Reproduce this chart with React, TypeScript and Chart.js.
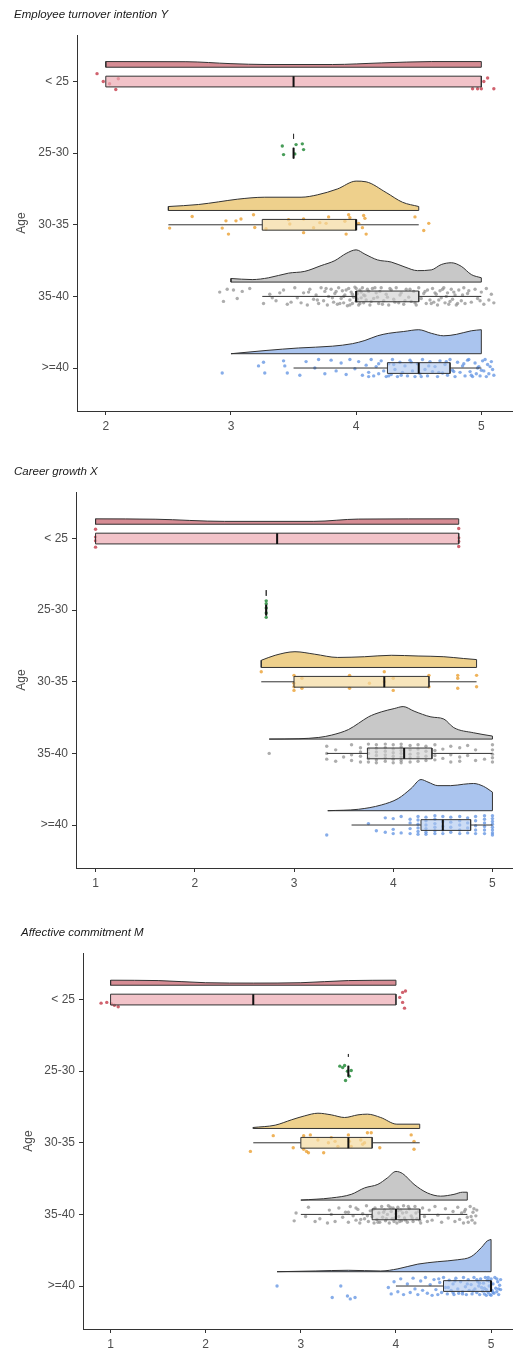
import React, { useEffect, useRef } from "react";
import { Chart, registerables } from "chart.js";

Chart.register(...registerables);

const FONT = "'Liberation Sans', Arial, Helvetica, sans-serif";

// ---------- shared ----------
const CATEGORIES = ["< 25", "25-30", "30-35", "35-40", ">=40"];
const Y_AXIS_LABEL = "Age";
const TITLE_Y = "Employee turnover intention Y";
const TITLE_X = "Career growth X";
const TITLE_M = "Affective commitment M";

const TICKS_Y = [2, 3, 4, 5];
const TICKS_X = [1, 2, 3, 4, 5];
const TICKS_M = [1, 2, 3, 4, 5];

const VIOLIN_FILL = ["#d68c94", "#6fae7a", "#eed08c", "#c8c8c8", "#aac4ee"];
const BOX_FILL = [
  "rgba(236,170,178,0.7)",
  "rgba(120,190,130,0.6)",
  "rgba(243,218,160,0.7)",
  "rgba(205,205,205,0.6)",
  "rgba(170,196,238,0.6)",
];
const POINT_COLOR = [
  "rgba(200,70,85,0.85)",
  "rgba(40,140,60,0.85)",
  "rgba(235,160,50,0.8)",
  "rgba(145,145,145,0.75)",
  "rgba(95,145,225,0.75)",
];
const OUTLINE = "#333333";

// helper: values at a fixed score with vertical jitter offsets
const stripes = (s: [number, number[]][]) =>
  s.flatMap(([v, dys]) => dys.map((d) => [v, d] as [number, number]));

// ---------- Employee turnover intention Y ----------
// half-violin outline: [score, height]
const Y_VIOLIN_LT25 = [[2.0, 0.079], [2.64, 0.077], [3.0, 0.05], [3.28, 0.038], [3.81, 0.038], [4.2, 0.06], [4.6, 0.079], [5.0, 0.079]];
const Y_VIOLIN_2530 = [[3.5, 0.07]];
const Y_VIOLIN_3035 = [[2.5, 0.055], [2.74, 0.083], [2.9, 0.12], [3.05, 0.157], [3.27, 0.185], [3.56, 0.185], [3.69, 0.218], [3.85, 0.3], [4.0, 0.41], [4.08, 0.4], [4.24, 0.25], [4.37, 0.115], [4.5, 0.055]];
const Y_VIOLIN_3540 = [[3.0, 0.05], [3.17, 0.035], [3.3, 0.06], [3.46, 0.125], [3.59, 0.15], [3.72, 0.23], [3.83, 0.3], [3.92, 0.4], [4.0, 0.45], [4.07, 0.39], [4.17, 0.31], [4.28, 0.28], [4.39, 0.21], [4.49, 0.16], [4.6, 0.17], [4.68, 0.245], [4.76, 0.27], [4.84, 0.22], [4.92, 0.105], [5.0, 0.06]];
const Y_VIOLIN_GE40 = [[3.0, 0.0], [3.28, 0.045], [3.54, 0.08], [3.81, 0.105], [3.97, 0.14], [4.07, 0.185], [4.17, 0.25], [4.26, 0.285], [4.38, 0.31], [4.5, 0.335], [4.6, 0.285], [4.7, 0.25], [4.8, 0.27], [4.92, 0.32], [5.0, 0.335]];
// box: [whisker low, q1, median, q3, whisker high]
const Y_BOXES = [[2, 2, 3.5, 5, 5], [3.5, 3.5, 3.5, 3.5, 3.5], [2.5, 3.25, 4.0, 4.0, 4.5], [3.25, 4.0, 4.0, 4.5, 5.0], [3.5, 4.25, 4.5, 4.75, 5.0]];
// points: [score (jittered), vertical offset]
const Y_PTS_LT25 = [[1.93, -0.11], [1.98, 0.0], [2.03, 0.03], [2.1, -0.04], [2.08, 0.11], [4.93, 0.1], [4.97, 0.1], [5.0, 0.1], [5.02, 0.0], [5.05, -0.05], [5.1, 0.1]];
const Y_PTS_2530 = [[3.41, -0.1], [3.42, 0.02], [3.52, -0.12], [3.51, 0.01], [3.57, -0.13], [3.58, -0.05]];
const Y_PTS_3035 = [[2.69, -0.115], [2.51, 0.046], [2.93, 0.046], [2.96, -0.055], [2.98, 0.13], [3.04, -0.055], [3.08, -0.08], [3.18, -0.14], [3.19, 0.037], [3.28, 0.055], [3.46, -0.07], [3.47, -0.01], [3.58, -0.08], [3.58, 0.11], [3.66, 0.04], [3.71, -0.03], [3.78, -0.11], [3.76, -0.02], [3.92, 0.13], [3.91, -0.05], [3.94, -0.14], [3.95, -0.1], [4.02, -0.02], [4.06, -0.13], [4.07, -0.09], [4.08, 0.13], [4.05, 0.04], [4.47, -0.11], [4.54, 0.08], [4.58, -0.02]];
const Y_PTS_3540 = [[2.91, -0.06], [2.94, 0.07], [2.97, -0.1], [3.02, -0.09], [3.05, 0.03], [3.09, -0.07], [3.15, -0.11], [3.26, 0.1], [3.31, -0.03], [3.36, 0.06], [3.42, -0.09], [3.45, 0.11],
  [3.51, -0.12], [3.53, 0.02], [3.56, 0.09], [3.58, -0.05], [3.61, 0.12], [3.63, -0.1], [3.66, 0.04], [3.68, -0.02], [3.7, 0.1], [3.72, -0.12], [3.74, 0.06], [3.75, -0.07], [3.77, 0.12], [3.78, 0.0], [3.8, -0.1],
  [3.82, 0.08], [3.83, -0.04], [3.85, 0.11], [3.86, -0.12], [3.88, 0.03], [3.89, -0.08], [3.9, 0.09], [3.91, -0.02], [3.93, 0.13], [3.94, -0.11], [3.95, 0.05], [3.96, -0.06], [3.97, 0.1], [3.98, 0.01], [3.99, -0.13], [4.0, 0.07], [4.01, -0.04], [4.02, 0.12], [4.03, -0.09], [4.04, 0.02], [4.05, -0.12], [4.06, 0.09], [4.07, -0.01], [4.08, 0.05], [4.1, -0.07], [4.11, 0.12], [4.13, -0.11], [4.14, 0.03], [4.16, -0.05], [4.18, 0.1], [4.2, -0.12], [4.22, 0.06], [4.24, -0.03], [4.26, 0.12], [4.28, -0.09],
  [4.3, 0.04], [4.32, -0.12], [4.34, 0.09], [4.36, -0.05], [4.38, 0.11], [4.4, -0.1], [4.42, 0.01], [4.44, 0.07], [4.46, -0.07], [4.48, 0.12], [4.5, -0.12], [4.52, 0.03], [4.54, -0.04], [4.56, 0.1], [4.57, -0.09], [4.59, 0.05],
  [4.61, -0.11], [4.62, 0.08], [4.64, -0.03], [4.65, 0.12], [4.67, -0.08], [4.68, 0.02], [4.7, -0.12], [4.71, 0.09], [4.73, -0.05], [4.74, 0.11], [4.76, -0.1], [4.77, 0.04], [4.79, -0.02], [4.8, 0.12], [4.82, -0.09], [4.84, 0.06], [4.86, -0.12], [4.87, 0.1], [4.89, -0.04],
  [4.92, 0.08], [4.95, -0.1], [4.97, 0.03], [5.0, -0.06], [5.02, 0.11], [5.04, -0.11], [5.06, 0.05], [5.08, -0.03], [5.1, 0.09],
  [3.62, -0.06], [3.69, 0.05], [3.76, -0.11], [3.81, 0.02], [3.84, -0.07], [3.87, 0.1], [3.9, 0.0], [3.92, -0.09], [3.95, 0.12], [3.97, -0.03], [4.0, -0.11], [4.01, 0.04], [4.03, 0.1], [4.04, -0.06], [4.06, -0.02], [4.09, -0.1], [4.12, 0.07], [4.15, -0.12], [4.17, 0.01], [4.19, -0.07], [4.21, 0.11], [4.25, 0.01], [4.27, -0.11], [4.31, 0.08], [4.35, -0.02], [4.39, 0.06], [4.43, -0.1], [4.47, 0.09], [4.55, -0.07], [4.6, 0.1], [4.63, -0.05], [4.66, 0.05], [4.69, -0.1], [4.72, 0.0], [4.75, 0.07], [4.78, -0.06], [4.81, 0.1], [4.85, -0.02], [4.9, -0.08], [4.99, 0.06], [3.48, 0.08], [3.39, -0.05], [3.33, 0.02]];
const Y_PTS_GE40 = [[2.93, 0.07], [3.22, -0.03], [3.26, -0.08], [3.27, 0.07], [3.42, -0.1], [3.43, -0.03], [3.45, 0.07], [3.55, 0.1], [3.6, -0.09], [3.67, 0.0], [3.7, -0.12], [3.75, 0.08], [3.8, -0.11], [3.84, 0.04], [3.88, -0.07], [3.92, 0.09], [3.95, -0.12], [3.99, 0.01], [4.02, -0.09], [4.05, 0.1], [4.08, -0.04], [4.1, 0.06], [4.12, -0.12], [4.14, 0.11], [4.16, -0.02], [4.18, 0.08], [4.2, -0.1], [4.22, 0.04], [4.24, 0.12], [4.26, -0.06], [4.28, 0.09], [4.29, -0.12], [4.31, 0.02], [4.33, 0.12], [4.35, -0.08], [4.37, 0.06], [4.39, -0.03], [4.41, 0.11], [4.43, -0.11], [4.45, 0.04], [4.47, 0.12], [4.49, -0.06], [4.51, 0.08], [4.53, -0.12], [4.55, 0.02], [4.57, 0.11], [4.59, -0.09], [4.61, 0.05], [4.63, -0.02], [4.65, 0.12], [4.67, -0.1], [4.69, 0.07], [4.71, -0.05], [4.73, 0.1], [4.75, -0.12], [4.77, 0.03], [4.79, 0.12], [4.81, -0.08], [4.83, 0.06], [4.85, -0.03], [4.87, 0.11], [4.89, -0.11], [4.91, 0.05], [4.93, 0.12], [4.95, -0.07], [4.96, 0.08], [4.98, -0.02], [4.99, 0.11], [5.01, -0.1], [5.02, 0.04], [5.04, 0.12], [5.05, -0.05], [5.06, 0.08], [5.08, -0.09], [5.09, 0.02], [5.1, 0.1], [5.03, -0.12], [4.97, 0.0],
  [4.3, -0.05], [4.36, 0.1], [4.44, -0.08], [4.52, 0.12], [4.58, -0.03], [4.66, 0.06], [4.72, -0.09], [4.78, 0.05], [4.86, -0.06], [4.92, 0.1], [5.0, 0.03], [5.07, -0.02], [4.9, -0.12], [4.26, 0.11], [4.18, -0.06], [4.1, 0.12]];

// ---------- Career growth X ----------
const X_VIOLIN_LT25 = [[1.0, 0.075], [1.6, 0.07], [2.3, 0.04], [3.2, 0.04], [3.65, 0.072], [4.66, 0.075]];
const X_VIOLIN_2530 = [[2.72, 0.08]];
const X_VIOLIN_3035 = [[2.67, 0.1], [2.81, 0.17], [3.01, 0.22], [3.21, 0.185], [3.44, 0.14], [3.71, 0.15], [3.98, 0.17], [4.25, 0.16], [4.51, 0.15], [4.71, 0.125], [4.84, 0.11]];
const X_VIOLIN_3540 = [[2.75, 0.0], [3.05, 0.005], [3.25, 0.023], [3.38, 0.056], [3.55, 0.134], [3.65, 0.22], [3.75, 0.31], [3.88, 0.38], [4.01, 0.426], [4.1, 0.454], [4.21, 0.39], [4.38, 0.31], [4.51, 0.28], [4.61, 0.16], [4.81, 0.088], [5.0, 0.042]];
const X_VIOLIN_GE40 = [[3.34, 0.0], [3.65, 0.02], [3.88, 0.08], [4.05, 0.17], [4.18, 0.31], [4.28, 0.435], [4.35, 0.4], [4.45, 0.35], [4.58, 0.35], [4.71, 0.37], [4.81, 0.38], [4.91, 0.34], [5.0, 0.26]];
const X_BOXES = [[1, 1, 2.83, 4.66, 4.66], [2.72, 2.72, 2.72, 2.72, 2.72], [2.67, 3.0, 3.91, 4.36, 4.84], [3.33, 3.74, 4.11, 4.39, 5.0], [3.58, 4.28, 4.5, 4.78, 5.0]];
const X_PTS_LT25 = stripes([[1.0, [-0.13, -0.02, 0.03, 0.12]], [4.66, [-0.14, -0.01, 0.04, 0.11]]]);
const X_PTS_2530 = stripes([[2.72, [-0.13, -0.09, -0.03, 0.04, 0.1]]]);
const X_PTS_3035 = stripes([[2.67, [-0.14]], [3.0, [-0.09, 0.02, 0.07, 0.12]], [3.08, [-0.05, 0.09]], [3.56, [-0.09, 0.09]], [3.76, [0.02]], [3.91, [-0.14, 0.0]], [4.0, [-0.05, 0.12]], [4.36, [-0.09, 0.07]], [4.65, [-0.09, -0.05, 0.09]], [4.84, [-0.09, 0.07]]]);
const X_PTS_3540 = stripes([[2.75, [0.0]], [3.33, [-0.1, 0.0, 0.08]], [3.42, [-0.05, 0.11]], [3.5, [0.05]], [3.58, [-0.12, 0.02, 0.1]], [3.67, [-0.08, -0.02, 0.04, 0.12]], [3.75, [-0.13, -0.06, 0.0, 0.07, 0.12]], [3.83, [-0.12, -0.07, -0.02, 0.03, 0.09, 0.13]], [3.92, [-0.13, -0.08, -0.03, 0.02, 0.06, 0.11]], [4.0, [-0.12, -0.06, -0.01, 0.04, 0.08, 0.13]], [4.08, [-0.13, -0.09, -0.04, 0.0, 0.05, 0.1, 0.13]], [4.17, [-0.11, -0.05, 0.01, 0.06, 0.12]], [4.25, [-0.12, -0.06, 0.0, 0.05, 0.11]], [4.33, [-0.1, -0.03, 0.04, 0.1]], [4.42, [-0.12, -0.04, 0.03, 0.09]], [4.5, [-0.06, 0.07]], [4.58, [-0.1, 0.02, 0.12]], [4.67, [-0.08, 0.05, 0.11]], [4.75, [-0.11, 0.03]], [4.83, [-0.05, 0.1]], [4.92, [0.08]], [5.0, [-0.12, -0.05, 0.01, 0.06, 0.12]]]);
const X_PTS_GE40 = stripes([[3.33, [0.14]], [3.75, [-0.02]], [3.83, [0.08]], [3.92, [-0.1, 0.1]], [4.0, [-0.09, 0.06, 0.12]], [4.08, [-0.12, 0.11]], [4.17, [-0.08, -0.03, 0.05, 0.12]], [4.25, [-0.12, -0.07, -0.01, 0.04, 0.09, 0.13]], [4.33, [-0.11, -0.06, 0.0, 0.05, 0.1, 0.13]], [4.42, [-0.13, -0.08, -0.02, 0.03, 0.08, 0.12]], [4.5, [-0.12, -0.05, 0.02, 0.07, 0.12]], [4.58, [-0.11, -0.04, 0.03, 0.1]], [4.67, [-0.12, -0.06, 0.0, 0.07, 0.12]], [4.75, [-0.1, -0.03, 0.04, 0.11]], [4.83, [-0.12, -0.06, 0.01, 0.07, 0.12]], [4.92, [-0.13, -0.08, -0.03, 0.02, 0.07, 0.12]], [5.0, [-0.13, -0.09, -0.05, -0.01, 0.03, 0.07, 0.11, 0.14]]]);

// ---------- Affective commitment M ----------
const M_VIOLIN_LT25 = [[1.0, 0.07], [1.5, 0.065], [2.0, 0.035], [2.5, 0.03], [3.0, 0.035], [3.5, 0.065], [4.0, 0.07]];
const M_VIOLIN_2530 = [[3.5, 0.04]];
const M_VIOLIN_3035 = [[2.5, 0.014], [2.73, 0.046], [2.9, 0.12], [3.04, 0.176], [3.18, 0.213], [3.32, 0.19], [3.46, 0.153], [3.6, 0.19], [3.7, 0.2], [3.84, 0.153], [4.01, 0.06], [4.25, 0.06]];
const M_VIOLIN_3540 = [[3.0, 0.0], [3.32, 0.03], [3.53, 0.08], [3.67, 0.17], [3.81, 0.22], [3.91, 0.31], [4.0, 0.4], [4.07, 0.37], [4.19, 0.22], [4.33, 0.1], [4.47, 0.055], [4.61, 0.08], [4.7, 0.11], [4.75, 0.11]];
const M_VIOLIN_GE40 = [[2.75, 0.0], [3.15, 0.01], [3.5, 0.02], [3.84, 0.01], [4.02, 0.04], [4.23, 0.106], [4.44, 0.14], [4.65, 0.167], [4.79, 0.21], [4.9, 0.34], [4.96, 0.43], [5.0, 0.45]];
const M_BOXES = [[1, 1, 2.5, 4, 4], [3.5, 3.5, 3.5, 3.5, 3.5], [2.5, 3.0, 3.5, 3.75, 4.25], [3.0, 3.75, 4.0, 4.25, 4.75], [4.0, 4.5, 5.0, 5.0, 5.0]];
const M_PTS_LT25 = [[0.9, 0.05], [0.96, 0.04], [1.01, 0.06], [1.04, 0.08], [1.08, 0.1], [4.07, -0.1], [4.1, -0.12], [4.04, -0.03], [4.07, 0.04], [4.09, 0.12]];
const M_PTS_2530 = [[3.41, -0.07], [3.46, -0.08], [3.49, 0.0], [3.53, -0.01], [3.47, 0.13], [3.44, -0.05], [3.51, 0.07]];
const M_PTS_3035 = [[2.47, 0.12], [2.71, -0.1], [2.92, 0.07], [3.03, -0.1], [3.08, 0.14], [3.1, -0.11], [3.03, 0.09], [3.06, 0.12], [3.18, -0.04], [3.24, 0.14], [3.29, 0.0], [3.32, -0.07], [3.36, -0.02], [3.39, 0.05], [3.5, -0.11], [3.51, -0.02], [3.53, 0.05], [3.63, -0.04], [3.65, 0.02], [3.7, -0.14], [3.74, -0.14], [3.67, 0.0], [3.83, 0.07], [4.16, -0.11], [4.19, -0.02], [4.19, 0.09]];
const M_PTS_3540 = [[2.93, 0.09], [2.95, -0.02], [3.05, 0.03], [3.08, -0.1], [3.15, 0.1], [3.2, 0.06], [3.28, 0.12], [3.3, -0.06], [3.32, 0.0], [3.36, 0.1], [3.4, -0.09], [3.44, 0.04], [3.47, -0.03], [3.5, 0.11], [3.52, -0.11], [3.55, 0.02], [3.58, 0.08], [3.6, -0.07], [3.62, 0.12], [3.65, -0.01], [3.67, 0.06], [3.69, -0.12], [3.71, 0.1], [3.73, -0.05], [3.75, 0.03], [3.77, 0.12], [3.78, -0.09], [3.8, 0.07], [3.82, -0.02], [3.83, 0.11], [3.85, -0.11], [3.86, 0.04], [3.88, -0.06], [3.89, 0.09], [3.91, 0.0], [3.92, -0.12], [3.93, 0.12], [3.95, -0.04], [3.96, 0.06], [3.97, -0.09], [3.98, 0.1], [4.0, -0.01], [4.01, 0.12], [4.02, -0.1], [4.03, 0.03], [4.05, -0.06], [4.06, 0.09], [4.08, -0.12], [4.09, 0.05], [4.11, -0.03], [4.12, 0.11], [4.14, -0.08], [4.16, 0.02], [4.18, 0.1], [4.2, -0.11], [4.22, 0.06], [4.24, -0.04], [4.26, 0.12], [4.28, -0.09], [4.3, 0.03], [4.33, 0.1], [4.35, -0.06], [4.38, 0.08], [4.41, -0.11], [4.44, 0.01], [4.48, 0.11], [4.52, -0.08], [4.55, 0.05], [4.6, -0.04], [4.62, 0.1], [4.65, -0.1], [4.67, 0.07], [4.69, -0.02], [4.71, 0.12], [4.73, -0.07], [4.75, 0.04], [4.76, 0.11], [4.78, -0.11], [4.8, 0.08], [4.81, -0.03], [4.83, 0.12], [4.84, 0.02], [4.85, -0.06],
  [3.7, 0.02], [3.76, -0.07], [3.81, 0.11], [3.87, -0.03], [3.9, 0.06], [3.94, -0.1], [3.99, 0.05], [4.02, -0.05], [4.04, 0.1], [4.07, -0.02], [4.1, 0.08], [4.13, -0.11], [4.17, 0.05], [4.21, -0.02], [4.25, 0.08], [3.58, -0.09], [3.63, 0.07], [3.5, -0.03], [4.72, -0.04], [4.79, 0.03], [4.82, -0.08]];
const M_PTS_GE40 = [[2.75, 0.0], [3.33, 0.16], [3.42, 0.0], [3.49, 0.14], [3.52, 0.18], [3.57, 0.16], [3.92, 0.02], [3.95, 0.11], [3.98, -0.06], [4.02, 0.08], [4.05, -0.1], [4.08, 0.12], [4.12, -0.03], [4.15, 0.09], [4.18, -0.11], [4.2, 0.04], [4.23, 0.12], [4.26, -0.07], [4.28, 0.06], [4.31, -0.12], [4.33, 0.1], [4.36, -0.02], [4.38, 0.13], [4.4, -0.09], [4.42, 0.05], [4.44, 0.12], [4.46, -0.05], [4.48, 0.09], [4.5, -0.12], [4.52, 0.02], [4.54, 0.11], [4.56, -0.08], [4.58, 0.06], [4.6, -0.03], [4.61, 0.12], [4.63, -0.11], [4.65, 0.04], [4.66, 0.1], [4.68, -0.06], [4.7, 0.08], [4.71, -0.12], [4.73, 0.01], [4.74, 0.12], [4.76, -0.09], [4.77, 0.06], [4.79, -0.02], [4.8, 0.11], [4.82, -0.12], [4.83, 0.04], [4.85, 0.09], [4.86, -0.06], [4.88, 0.12], [4.89, -0.1], [4.9, 0.02], [4.91, 0.07], [4.92, -0.04], [4.93, 0.11], [4.94, -0.12], [4.95, 0.05], [4.96, -0.08], [4.97, 0.09], [4.98, 0.0], [4.99, 0.12], [5.0, -0.1], [5.01, 0.06], [5.02, -0.03], [5.03, 0.1], [5.04, -0.12], [5.05, 0.03], [5.06, 0.08], [5.07, -0.06], [5.08, 0.12], [5.09, -0.01], [5.1, 0.05], [5.1, -0.09], [4.97, -0.12], [5.0, 0.13], [4.87, 0.0],
  [4.55, 0.02], [4.62, -0.07], [4.7, 0.11], [4.75, -0.03], [4.81, 0.07], [4.88, -0.04], [4.93, 0.03], [4.98, -0.07], [5.02, 0.09], [5.06, -0.1], [5.08, 0.04], [4.95, 0.13], [4.85, -0.09], [4.6, 0.09], [4.45, -0.1]];

// ---------- drawing ----------
const VIOLIN_GAP = 0.2;
const BOX_HALF = 0.075;

function buildDatasets(violins: number[][][], boxes: number[][], points: number[][][]) {
  const ds: any[] = [];
  for (let g = 0; g < CATEGORIES.length; g++) {
    const c = g + 1;
    const base = c - VIOLIN_GAP;
    const top = violins[g].map(([x, h]) => ({ x, y: base - h }));
    ds.push({
      type: "line", data: top, showLine: true, fill: { value: base },
      backgroundColor: VIOLIN_FILL[g], borderColor: OUTLINE, borderWidth: 1,
      pointRadius: 0, cubicInterpolationMode: "monotone", order: 40,
    });
    const first = top[0];
    const last = top[top.length - 1];
    ds.push({
      type: "line", data: [first, { x: first.x, y: base }, { x: last.x, y: base }, last],
      showLine: true, fill: false, borderColor: OUTLINE, borderWidth: 1, pointRadius: 0, tension: 0, order: 39,
    });
    ds.push({
      type: "scatter", data: points[g].map(([x, d]) => ({ x, y: c + d })),
      pointRadius: 1.7, pointBackgroundColor: POINT_COLOR[g], backgroundColor: POINT_COLOR[g],
      pointBorderWidth: 0, borderWidth: 0, order: 30,
    });
    const [lo, q1, med, q3, hi] = boxes[g];
    ds.push({
      type: "line", data: [{ x: q1, y: c - BOX_HALF }, { x: q3, y: c - BOX_HALF }], showLine: true,
      fill: { value: c + BOX_HALF }, backgroundColor: BOX_FILL[g], borderWidth: 0, pointRadius: 0, order: 20,
    });
    ds.push({
      type: "line",
      data: [{ x: q1, y: c - BOX_HALF }, { x: q3, y: c - BOX_HALF }, { x: q3, y: c + BOX_HALF }, { x: q1, y: c + BOX_HALF }, { x: q1, y: c - BOX_HALF }],
      showLine: true, fill: false, borderColor: OUTLINE, borderWidth: 1, pointRadius: 0, order: 12,
    });
    ds.push({
      type: "line", data: [{ x: lo, y: c }, { x: q1, y: c }], showLine: true, fill: false,
      borderColor: OUTLINE, borderWidth: 1, pointRadius: 0, order: 11,
    });
    ds.push({
      type: "line", data: [{ x: q3, y: c }, { x: hi, y: c }], showLine: true, fill: false,
      borderColor: OUTLINE, borderWidth: 1, pointRadius: 0, order: 11,
    });
    ds.push({
      type: "line", data: [{ x: med, y: c - BOX_HALF }, { x: med, y: c + BOX_HALF }], showLine: true, fill: false,
      borderColor: "#111", borderWidth: 2, pointRadius: 0, order: 10,
    });
  }
  return ds;
}

const PANELS = [
  {
    title: TITLE_Y, top: 0, height: 440, padLeft: 14, axisW: 63, titlePadTop: 7.6, titlePadBottom: 13.6, xAxisH: 29,
    xMin: 1.77, xMax: 5.245, ticks: TICKS_Y,
    violins: [Y_VIOLIN_LT25, Y_VIOLIN_2530, Y_VIOLIN_3035, Y_VIOLIN_3540, Y_VIOLIN_GE40],
    boxes: Y_BOXES,
    points: [Y_PTS_LT25, Y_PTS_2530, Y_PTS_3035, Y_PTS_3540, Y_PTS_GE40],
  },
  {
    title: TITLE_X, top: 440, height: 465, padLeft: 14, axisW: 62, titlePadTop: 25.1, titlePadBottom: 13.1, xAxisH: 37,
    xMin: 0.803, xMax: 5.197, ticks: TICKS_X,
    violins: [X_VIOLIN_LT25, X_VIOLIN_2530, X_VIOLIN_3035, X_VIOLIN_3540, X_VIOLIN_GE40],
    boxes: X_BOXES,
    points: [X_PTS_LT25, X_PTS_2530, X_PTS_3035, X_PTS_3540, X_PTS_GE40],
  },
  {
    title: TITLE_M, top: 905, height: 444, padLeft: 21, axisW: 62, titlePadTop: 21.1, titlePadBottom: 13.1, xAxisH: 20,
    xMin: 0.71, xMax: 5.22, ticks: TICKS_M,
    violins: [M_VIOLIN_LT25, M_VIOLIN_2530, M_VIOLIN_3035, M_VIOLIN_3540, M_VIOLIN_GE40],
    boxes: M_BOXES,
    points: [M_PTS_LT25, M_PTS_2530, M_PTS_3035, M_PTS_3540, M_PTS_GE40],
  },
];

function Panel({ cfg }: { cfg: any }) {
  const ref = useRef<HTMLCanvasElement>(null);
  useEffect(() => {
    const chart = new Chart(ref.current as HTMLCanvasElement, {
      type: "scatter",
      data: { datasets: buildDatasets(cfg.violins, cfg.boxes, cfg.points) },
      options: {
        animation: false,
        responsive: false,
        devicePixelRatio: 1,
        events: [],
        layout: { padding: { left: cfg.padLeft, right: 1, top: 0, bottom: 0 } },
        plugins: {
          legend: { display: false },
          tooltip: { enabled: false },
          title: {
            display: true, text: cfg.title, align: "start", color: "#1a1a1a",
            font: { family: FONT, size: 11.5, style: "italic", weight: "normal", lineHeight: 1.2 },
            padding: { top: cfg.titlePadTop, bottom: cfg.titlePadBottom },
          },
        },
        scales: {
          x: {
            type: "linear", min: cfg.xMin, max: cfg.xMax,
            afterBuildTicks: (s: any) => { s.ticks = cfg.ticks.map((v: number) => ({ value: v })); },
            afterFit: (s: any) => { s.height = cfg.xAxisH; },
            grid: { drawOnChartArea: false, drawTicks: true, tickLength: 4, color: OUTLINE, lineWidth: 1 },
            border: { display: true, color: OUTLINE, width: 1 },
            ticks: { color: "#4d4d4d", font: { family: FONT, size: 12 }, padding: 4, maxRotation: 0, autoSkip: false },
          },
          y: {
            type: "linear", reverse: true, min: 0.35, max: 5.6,
            afterBuildTicks: (s: any) => { s.ticks = CATEGORIES.map((_, i) => ({ value: i + 1 })); },
            afterFit: (s: any) => { s.width = cfg.axisW; },
            grid: { drawOnChartArea: false, drawTicks: true, tickLength: 4, color: OUTLINE, lineWidth: 1 },
            border: { display: true, color: OUTLINE, width: 1 },
            ticks: {
              color: "#4d4d4d", font: { family: FONT, size: 12 }, padding: 4, autoSkip: false,
              callback: (v: any) => CATEGORIES[Math.round(Number(v)) - 1] ?? "",
            },
            title: { display: true, text: Y_AXIS_LABEL, color: "#4d4d4d", font: { family: FONT, size: 12 }, padding: 0 },
          },
        },
      } as any,
    });
    return () => chart.destroy();
  }, [cfg]);
  return (
    <canvas
      ref={ref}
      width={516}
      height={cfg.height}
      style={{ position: "absolute", left: 0, top: cfg.top, width: 516, height: cfg.height, display: "block" }}
    />
  );
}

export default function App() {
  return (
    <div style={{ position: "absolute", left: 0, top: 0, width: 516, height: 1349, background: "#fff", overflow: "hidden" }}>
      {PANELS.map((p, i) => (
        <Panel key={i} cfg={p} />
      ))}
    </div>
  );
}
